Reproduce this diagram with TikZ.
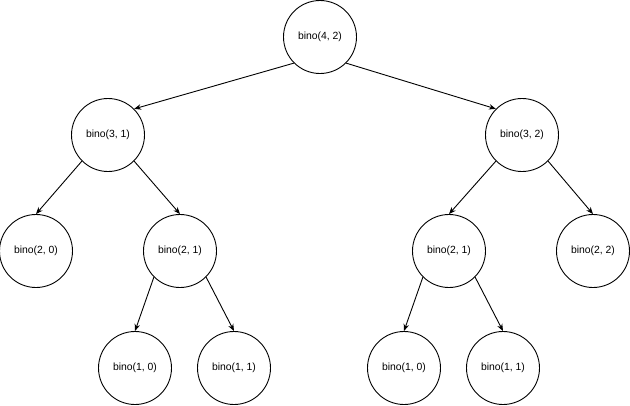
\documentclass[tikz,border=0pt]{standalone}
\usepackage{fontspec}
\setmainfont{Liberation Sans}
\usetikzlibrary{arrows.meta}
\tikzset{x=1pt, y=-1pt,
    call/.style={draw, circle, minimum size=73pt, inner sep=0pt, line width=0.9pt, font=\fontsize{10.4}{12}\selectfont},
    edge/.style={line width=0.9pt, -{Stealth[length=7pt, width=5.5pt]}}}

\begin{document}
\begin{tikzpicture}
                \useasboundingbox (0,0) rectangle (630,405);
                \node[call] (b42) at (320,37) {bino(4, 2)};
                \node[call] (b31) at (108,135) {bino(3, 1)};
                \node[call] (b32) at (522,135) {bino(3, 2)};
                \node[call] (b20) at (36,251) {bino(2, 0)};
                \node[call] (b21l) at (180,251) {bino(2, 1)};
                \node[call] (b21r) at (449,251) {bino(2, 1)};
                \node[call] (b22) at (593,251) {bino(2, 2)};
                \node[call] (b10l) at (135,368) {bino(1, 0)};
                \node[call] (b11l) at (234,368) {bino(1, 1)};
                \node[call] (b10r) at (404,368) {bino(1, 0)};
                \node[call] (b11r) at (503,368) {bino(1, 1)};
                \draw[edge] (b42.south west) -- (b31.north east);
                \draw[edge] (b42.south east) -- (b32.north west);
                \draw[edge] (b31.south west) -- (b20.north);
                \draw[edge] (b31.south east) -- (b21l.north);
                \draw[edge] (b32.south west) -- (b21r.north);
                \draw[edge] (b32.south east) -- (b22.north);
                \draw[edge] (b21l.south west) -- (b10l.north);
                \draw[edge] (b21l.south east) -- (b11l.north);
                \draw[edge] (b21r.south west) -- (b10r.north);
                \draw[edge] (b21r.south east) -- (b11r.north);
            \end{tikzpicture}
\end{document}
